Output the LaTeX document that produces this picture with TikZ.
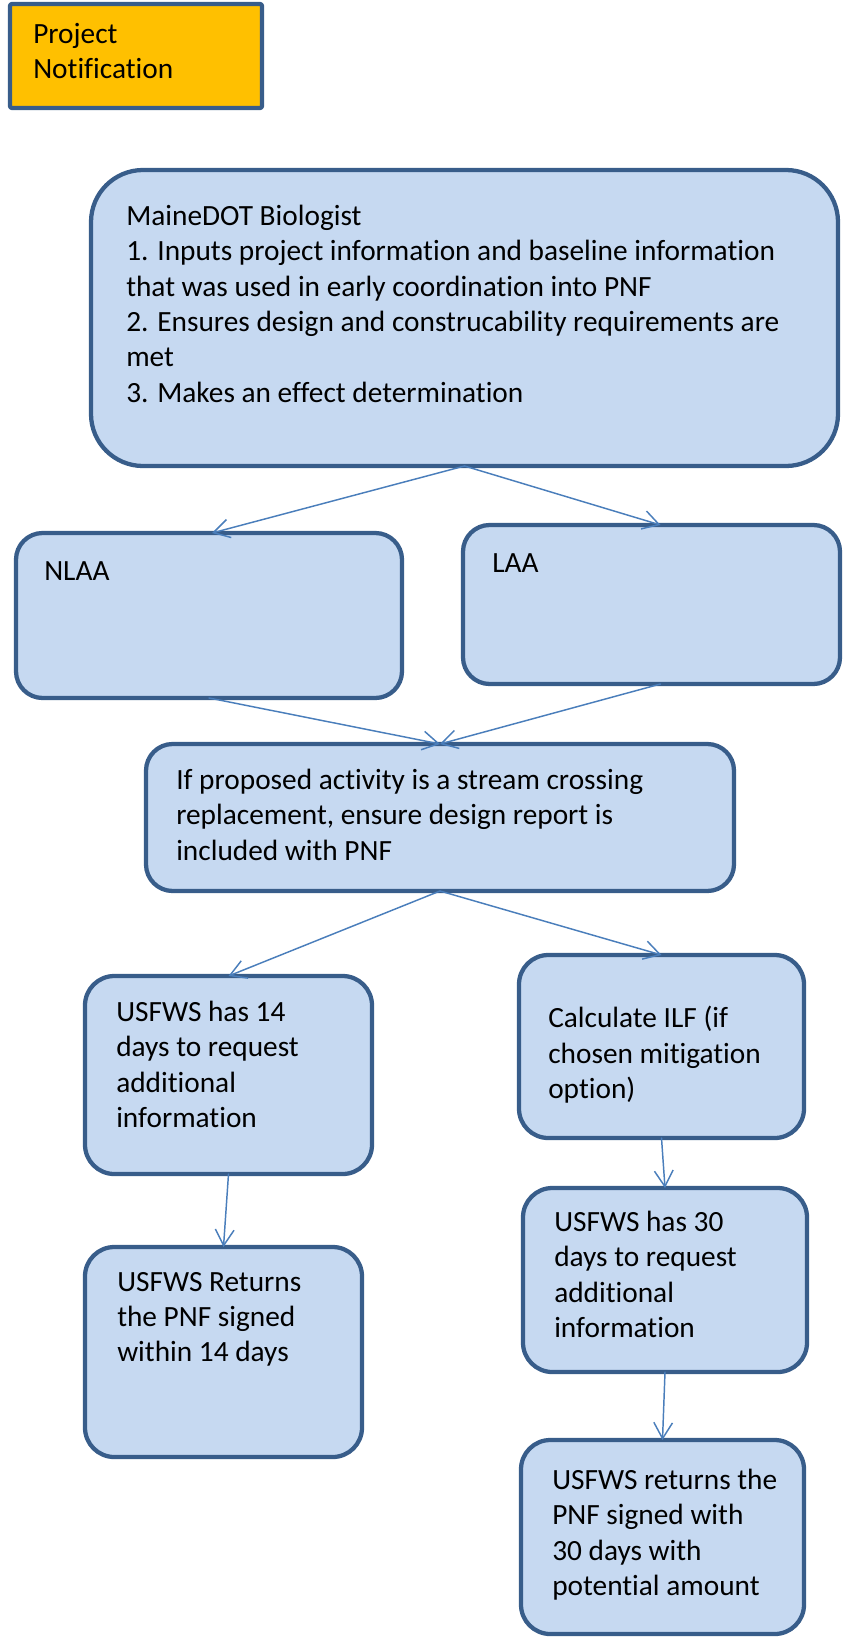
\documentclass[tikz,border=0pt]{standalone}
\usepackage{fontspec}
\setmainfont{Carlito}[Ligatures=NoCommon]
\usetikzlibrary{arrows.meta,calc,fit}

\definecolor{boxfill}{HTML}{C6D9F1}
\definecolor{boxline}{HTML}{385D8A}
\definecolor{flowline}{HTML}{4A7EBB}
\definecolor{notefill}{HTML}{FFC000}

\begin{document}
\begin{tikzpicture}[x=0.75pt,y=-0.75pt,line cap=round,line join=round,
    box/.style={draw=boxline,line width=3.2pt,fill=boxfill,inner sep=0pt,outer sep=0pt,rounded corners=#1},
    box/.default=22pt,
    txt/.style={anchor=north west,inner sep=0pt,align=left,
      font=\fontsize{22}{26.5}\selectfont,execute at begin node=\strut},
    flow/.style={-{Straight Barb[length=12pt,width=14pt]},draw=flowline,line width=1.1pt}]
  \useasboundingbox (0,0) rectangle (843,1637);

  % --- project notification tag ---
  \node[box=1.5pt,fill=notefill,fit={(10,4)(262,108)}] (proj) {};
  \node[txt] (projT) at (33,23) {Project\\Notification};

  % --- biologist step ---
  \node[box=39pt,fit={(91,170)(838,466)}] (bio) {};
  \node[txt] (bioT) at (126,205) {MaineDOT Biologist\\
    1. Inputs project information and baseline information\\
    that was used in early coordination into PNF\\
    2. Ensures design and construcability requirements are\\
    met\\
    3. Makes an effect determination};

  % --- effect determination ---
  \node[box=20pt,fit={(16,533)(402,698)}] (nlaa) {};
  \node[txt] (nlaaT) at (44,555) {NLAA};
  \node[box=20pt,fit={(463,525)(840,684)}] (laa) {};
  \node[txt] (laaT) at (492,547) {LAA};

  % --- stream crossing check ---
  \node[box=20pt,fit={(146,744)(734,891)}] (stream) {};
  \node[txt] (streamT) at (176,769) {If proposed activity is a stream crossing\\
    replacement, ensure design report is\\
    included with PNF};

  % --- left branch ---
  \node[box,fit={(85,976)(372,1174)}] (usf14) {};
  \node[txt] (usf14T) at (116,1001) {USFWS has 14\\days to request\\additional\\information};
  \node[box,fit={(85,1247)(362,1457)}] (ret14) {};
  \node[txt] (ret14T) at (117,1272) {USFWS Returns\\the PNF signed\\within 14 days};

  % --- right branch ---
  \node[box,fit={(519,955)(804,1138)}] (ilf) {};
  \node[txt] (ilfT) at (548,1006) {Calculate ILF (if\\chosen mitigation\\option)};
  \node[box,fit={(523,1188)(807,1372)}] (usf30) {};
  \node[txt] (usf30T) at (554,1211) {USFWS has 30\\days to request\\additional\\information};
  \node[box,fit={(521,1440)(804,1634)}] (ret30) {};
  \node[txt] (ret30T) at (552,1469) {USFWS returns the\\PNF signed with\\30 days with\\potential amount};

  % --- connectors ---
  \draw[flow] (bio.south) -- ($(nlaa.north)+(3,0)$);
  \draw[flow] (bio.south) -- ($(laa.north)+(9,0)$);
  \draw[flow] (nlaa.south) -- (stream.north);
  \draw[flow] ($(laa.south)+(9,0)$) -- (stream.north);
  \draw[flow] (stream.south) -- (usf14.north);
  \draw[flow] (stream.south) -- (ilf.north);
  \draw[flow] (usf14.south) -- (ret14.north);
  \draw[flow] (ilf.south) -- (usf30.north);
  \draw[flow] (usf30.south) -- (ret30.north);
\end{tikzpicture}
\end{document}
